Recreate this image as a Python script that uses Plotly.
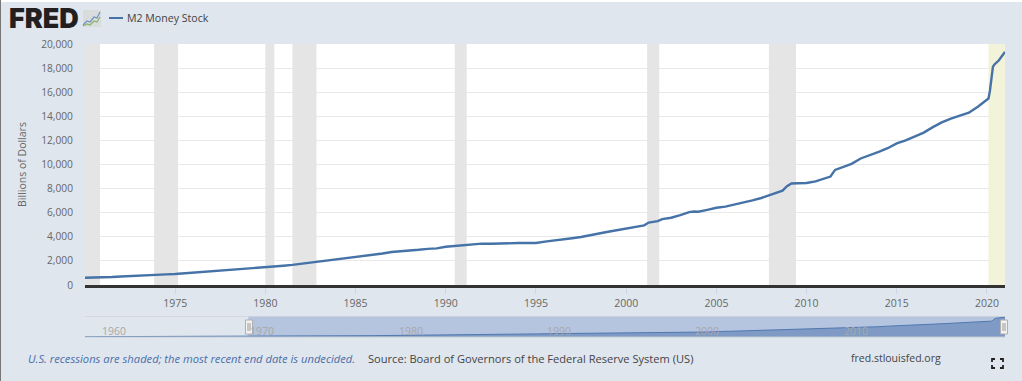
import plotly.graph_objects as go

W, H = 1022, 381

dates = ["1959-01","1961-01","1963-01","1965-01","1967-01","1969-01",
"1970-01","1970-07","1971-01","1971-07","1972-01","1972-07","1973-01","1973-07","1974-01","1974-07",
"1975-01","1975-07","1976-01","1976-07","1977-01","1977-07","1978-01","1978-07","1979-01","1979-07",
"1980-01","1980-07","1981-01","1981-07","1982-01","1982-07","1982-12","1983-03","1983-07","1984-01","1984-07",
"1985-01","1985-07","1986-01","1986-07","1987-01","1987-07","1988-01","1988-07","1989-01","1989-07",
"1990-01","1990-07","1991-01","1991-07","1992-01","1992-07","1993-01","1993-07","1994-01","1994-07",
"1995-01","1995-07","1996-01","1996-07","1997-01","1997-07","1998-01","1998-07","1999-01","1999-07",
"2000-01","2000-07","2001-01","2001-04","2001-10","2002-01","2002-07","2003-01","2003-07","2003-10","2004-01","2004-07",
"2005-01","2005-07","2006-01","2006-07","2007-01","2007-07","2008-01","2008-04","2008-09","2008-12","2009-03","2009-07",
"2010-01","2010-07","2011-01","2011-05","2011-08","2012-01","2012-07","2013-01","2013-07","2014-01","2014-07",
"2015-01","2015-07","2016-01","2016-07","2017-01","2017-07","2018-01","2018-07","2019-01","2019-07",
"2020-01","2020-02","2020-03","2020-04","2020-05","2020-06","2020-09","2020-11","2021-01"]
m2_values = [287,312,365,424,480,568,
587,600,628,665,710,755,802,830,856,880,
908,960,1015,1075,1150,1205,1270,1320,1370,1425,
1480,1530,1600,1670,1765,1830,1900,2000,2060,2130,2220,
2320,2420,2500,2610,2740,2780,2840,2920,3000,3040,
3170,3230,3330,3380,3430,3420,3420,3460,3480,3490,
3490,3600,3680,3780,3880,3980,4100,4270,4420,4550,
4680,4790,4950,5180,5300,5470,5580,5800,6050,6100,6080,6240,
6410,6500,6660,6810,7020,7220,7480,7620,7830,8200,8420,8450,
8470,8600,8830,9000,9550,9780,10050,10500,10750,11050,11350,
11750,12000,12300,12650,13100,13500,13800,14050,14300,14800,
15350,15480,16100,17200,18100,18300,18650,19000,19350]

rec_start = ["1969-12-01","1973-11-01","1980-01-01","1981-07-01","1990-07-01","2001-03-01","2007-12-01"]
rec_end   = ["1970-11-01","1975-03-01","1980-07-01","1982-11-01","1991-03-01","2001-11-01","2009-06-01"]
open_start, open_end = "2020-02-01", "2021-01-01"
nav_labels = ["1960","1970","1980","1990","2000","2010"]
y_ticks = list(range(0, 20001, 2000))
x_ticks = list(range(1975, 2021, 5))

def px(x): return x / W
def py(y): return 1 - y / H
BG = "#dfe6ee"
BLUE = "#4572a7"
FONT = "Open Sans"

fig = go.Figure()
fig.add_trace(go.Scatter(x=dates, y=m2_values, mode="lines", name="M2 Money Stock",
                         line=dict(color=BLUE, width=2.4), xaxis="x", yaxis="y",
                         hoverinfo="skip", showlegend=False))
fig.add_trace(go.Scatter(x=dates, y=m2_values, mode="lines", name="nav",
                         line=dict(color=BLUE, width=1), fill="tozeroy",
                         fillcolor="rgba(69,114,167,0.55)", xaxis="x2", yaxis="y2",
                         hoverinfo="skip", showlegend=False))

def prect(x0, y0, x1, y1, fill, line=None, layer="above", lw=0):
    return dict(type="rect", xref="paper", yref="paper", x0=px(x0), x1=px(x1), y0=py(y0), y1=py(y1),
                fillcolor=fill, line=dict(color=line or fill, width=lw), layer=layer)

shapes = [prect(85, 44, 1005, 285, "#ffffff", layer="below")]
for s, e in zip(rec_start, rec_end):
    shapes.append(dict(type="rect", xref="x", yref="y", x0=s, x1=e, y0=0, y1=20000,
                       fillcolor="#e5e5e5", line_width=0, layer="between"))
shapes.append(dict(type="rect", xref="x", yref="y", x0=open_start, x1=open_end, y0=0, y1=20000,
                   fillcolor="#f3f3d9", line_width=0, layer="between"))
# page edges
shapes.append(prect(0, 0, 1022, 2, "#ffffff"))
shapes.append(prect(0, 0, 1, 381, "#777777"))
# navigator selection
shapes.append(dict(type="rect", xref="x2", yref="paper", x0="1970-01-01", x1="2021-01-01",
                   y0=py(337), y1=py(316), fillcolor="rgba(102,133,194,0.35)", line_width=0, layer="above"))
shapes.append(prect(85, 316, 1005, 316.7, "#cfd4da"))
shapes.append(prect(85, 336.5, 1005, 337.5, "#c4cbd4"))
# handles
for hx in (249, 1004):
    shapes.append(prect(hx - 3.5, 320, hx + 3.5, 334, "#f2f2f2", "#b0b0b0", lw=1))
    for dx in (-1, 1):
        shapes.append(dict(type="line", xref="paper", yref="paper", x0=px(hx + dx), x1=px(hx + dx),
                           y0=py(323), y1=py(331), line=dict(color="#999999", width=1)))
# legend sample
shapes.append(dict(type="line", xref="paper", yref="paper", x0=px(109), x1=px(123), y0=py(18), y1=py(18),
                   line=dict(color=BLUE, width=2)))
# logo tile
shapes.append(prect(83, 10, 101, 27, "#d9dcdc"))
def poly(points, color, width=1.2):
    d = "M" + " L".join(f"{px(a):.5f},{py(b):.5f}" for a, b in points)
    return dict(type="path", xref="paper", yref="paper", path=d, line=dict(color=color, width=width))
shapes.append(poly([(83,25),(87,21),(90,22),(94,17),(97,18),(100,12)], "#6f93c0"))
shapes.append(poly([(83,26),(87,24),(90,25),(94,21),(97,22),(100,17)], "#8db36a"))
# fullscreen icon
for (cx, cy, sx, sy) in [(992,359,1,1),(1003,359,-1,1),(992,368,1,-1),(1003,368,-1,-1)]:
    shapes.append(poly([(cx + 3*sx, cy),(cx, cy),(cx, cy + 3*sy)], "#222222", 1.8))

ann = []
def text(x, y, t, size=11, color="#444444", anchor="left", **kw):
    ann.append(dict(xref="paper", yref="paper", x=px(x), y=py(y), text=t, showarrow=False,
                    xanchor=anchor, yanchor="middle", xshift=0, borderpad=0, borderwidth=0,
                    font=dict(family=kw.pop("family", FONT), size=size, color=color, **kw)))
text(9, 19, "FRED", size=27, color="#231f20", family="Inter", weight=900)
text(127, 18.5, "M2 Money Stock", size=10.6)
text(28, 358, "<i>U.S. recessions are shaded; the most recent end date is undecided.</i>", size=11.2, color="#4a6ea8")
text(368, 358, "Source: Board of Governors of the Federal Reserve System (US)", size=11.1, color="#444444")
text(851, 358, "fred.stlouisfed.org", size=10.5, color="#444444")
for lab in nav_labels:
    ann.append(dict(xref="x2", yref="paper", x=f"{lab}-01-01", y=py(331), text=lab, showarrow=False,
                    xanchor="left", yanchor="middle", xshift=0,
                    font=dict(family=FONT, size=10.5, color="#a8a8a8")))

fig.update_layout(
    width=W, height=H, margin=dict(l=0, r=0, t=0, b=0, pad=0, autoexpand=False),
    paper_bgcolor=BG, plot_bgcolor=BG, showlegend=False,
    font=dict(family=FONT, size=11, color="#666666"),
    xaxis=dict(domain=[px(85), px(1005)], range=["1970-01-01", "2021-01-01"], type="date",
               tickvals=[f"{y}-01-01" for y in x_ticks], ticktext=[str(y) for y in x_ticks],
               ticks="outside", ticklen=6, tickcolor="#ccd6eb", showgrid=False, zeroline=False,
               showline=True, linecolor="#333333", linewidth=3, anchor="y",
               tickfont=dict(size=10.5, color="#666666")),
    yaxis=dict(domain=[py(285), py(44)], range=[0, 20000], tickvals=y_ticks,
               ticktext=[f"{v:,}" for v in y_ticks], gridcolor="#e9e9e9", gridwidth=1,
               zeroline=False, showline=False,
               ticks="outside", ticklen=9, tickcolor="rgba(0,0,0,0)", anchor="x",
               tickfont=dict(size=10.2, color="#666666"),
               title=dict(text="Billions of Dollars", font=dict(size=10.5, color="#666666"), standoff=12)),
    xaxis2=dict(domain=[px(85), px(1005)], range=["1959-01-01", "2021-01-01"], type="date",
                visible=False, anchor="y2"),
    yaxis2=dict(domain=[py(337), py(316)], range=[0, 20500], visible=False, anchor="x2"),
    shapes=shapes, annotations=ann,
)
fig.write_html("out.html", config=dict(displayModeBar=False),
               post_script="document.body.style.margin='0';document.body.style.overflow='hidden';")
